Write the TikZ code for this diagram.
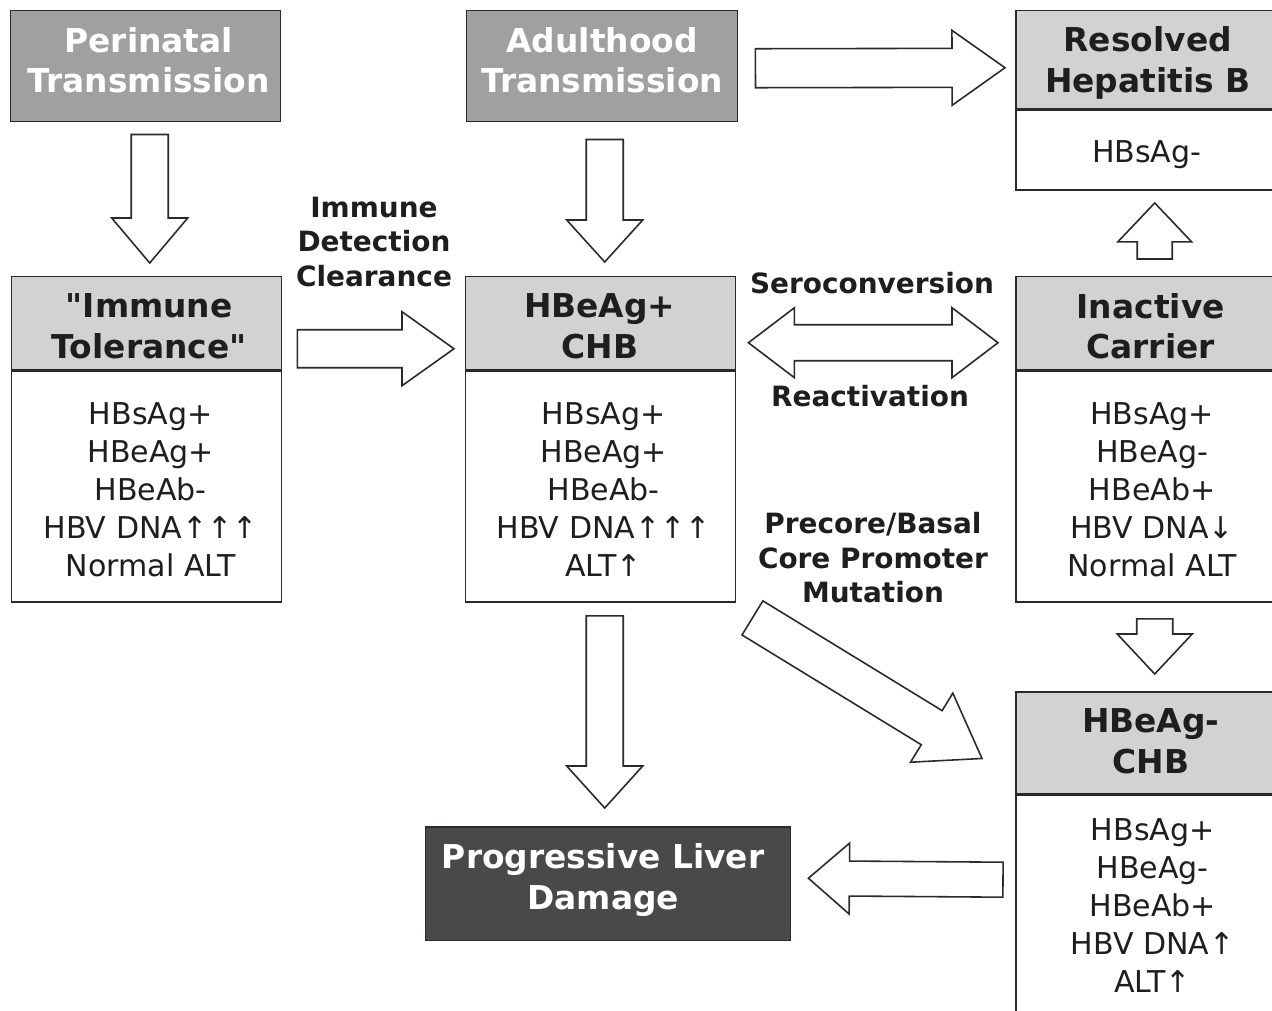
\documentclass[tikz,border=0pt]{standalone}
\usepackage{fontspec}
\setmainfont{DejaVu Sans}
\usetikzlibrary{calc,positioning}

\definecolor{darkhead}{HTML}{A0A0A3}
\definecolor{lighthead}{HTML}{D2D2D4}
\definecolor{darkbox}{HTML}{48494B}
\definecolor{edge}{HTML}{2A2A2A}
\definecolor{ink}{HTML}{1E1E1E}

% straight double quote, kept out of the TeX ligature mapping
\newcommand\dq{\XeTeXglyph\XeTeXcharglyph 34\relax}

\tikzset{
  box/.style={draw=edge, line width=0.85pt, inner sep=0pt, minimum width=5.4cm},
  source/.style={box, fill=darkhead, minimum height=2.22cm},
  phase/.style={box, fill=lighthead, minimum height=1.86cm},
  marker/.style={box, fill=white, minimum height=4.62cm},
  outcome/.style={box, fill=darkbox, minimum width=7.3cm, minimum height=2.28cm},
  whitetitle/.style={text=white, align=center, inner sep=0pt, font=\bfseries\fontsize{18.7}{23.3}\selectfont},
  title/.style={text=ink, align=center, inner sep=0pt, font=\bfseries\fontsize{18.7}{23.3}\selectfont},
  list/.style={text=ink, align=center, inner sep=0pt, font=\fontsize{17.1}{21.6}\selectfont},
  note/.style={text=ink, align=center, inner sep=0pt, font=\bfseries\fontsize{15.9}{19.6}\selectfont},
  blockarrow/.style={draw=edge, fill=white, line width=0.9pt, line join=miter}
}

% fat arrow: start, tip, shaft half width, head half width, head length
\newcommand\BlockArrow[5]{%
  \coordinate (ba) at ($(#2)!#5!(#1)$);
  \draw[blockarrow] ($(#1)!#3!90:(#2)$) -- ($(ba)!#3!90:(#2)$) -- ($(ba)!#4!90:(#2)$)
    -- (#2) -- ($(ba)!#4!-90:(#2)$) -- ($(ba)!#3!-90:(#2)$) -- ($(#1)!#3!-90:(#2)$) -- cycle;
}
% fat arrow with a head at both ends
\newcommand\TwinArrow[5]{%
  \coordinate (ba) at ($(#2)!#5!(#1)$);
  \coordinate (bb) at ($(#1)!#5!(#2)$);
  \draw[blockarrow] ($(bb)!#3!90:(#2)$) -- ($(ba)!#3!90:(#2)$) -- ($(ba)!#4!90:(#2)$)
    -- (#2) -- ($(ba)!#4!-90:(#2)$) -- ($(ba)!#3!-90:(#2)$) -- ($(bb)!#3!-90:(#2)$)
    -- ($(bb)!#4!-90:(#2)$) -- (#1) -- ($(bb)!#4!90:(#2)$) -- cycle;
}

\begin{document}
\begin{tikzpicture}[x=0.02cm, y=-0.02cm]
  \useasboundingbox (0,0) rectangle (1272,1011);

  % where the infection comes from
  \node[source, anchor=north west] (peri) at (10,10) {};
  \node[whitetitle] (periT) at ($(peri.center)+(3,-6)$) {Perinatal\\Transmission};
  \node[source, anchor=north west, minimum width=5.42cm] (adult) at (466,10) {};
  \node[whitetitle] (adultT) at ($(adult.center)+(0,-6)$) {Adulthood\\Transmission};

  % phases
  \node[phase, anchor=north west, minimum height=1.96cm] (resH) at (1015,10) {};
  \node[title] (resHT) at ($(resH.center)+(-3,3)$) {Resolved\\Hepatitis B};
  \node[marker, anchor=north, minimum height=1.6cm] (resB) at (resH.south) {};
  \node[list] (resBT) at ($(resB.center)+(-4,4)$) {HBsAg-};

  \node[phase, anchor=north west] (itH) at (11,276) {};
  \node[title] (itHT) at ($(itH.center)+(2.5,3)$) {\dq Immune\\Tolerance\dq};
  \node[marker, anchor=north] (itB) at (itH.south) {};
  \node[list] (itBT) at ($(itB.center)+(4,3)$) {HBsAg+\\HBeAg+\\HBeAb-\\HBV DNA↑↑↑\\Normal ALT};

  \node[phase, anchor=north west] (cpH) at (465,276) {};
  \node[title] (cpHT) at ($(cpH.center)+(-1,3)$) {HBeAg+\\CHB};
  \node[marker, anchor=north] (cpB) at (cpH.south) {};
  \node[list] (cpBT) at ($(cpB.center)+(3,3)$) {HBsAg+\\HBeAg+\\HBeAb-\\HBV DNA↑↑↑\\ALT↑};

  \node[phase, anchor=north west] (icH) at (1015,276) {};
  \node[title] (icHT) at ($(icH.center)+(0,3)$) {Inactive\\Carrier};
  \node[marker, anchor=north] (icB) at (icH.south) {};
  \node[list] (icBT) at ($(icB.center)+(1.5,3)$) {HBsAg+\\HBeAg-\\HBeAb+\\HBV DNA↓\\Normal ALT};

  \node[phase, anchor=north west, minimum height=2.04cm] (cnH) at (1015,691) {};
  \node[title] (cnHT) at ($(cnH.center)+(0,-1.5)$) {HBeAg-\\CHB};
  \node[marker, anchor=north] (cnB) at (cnH.south) {};
  \node[list] (cnBT) at ($(cnB.center)+(2,-5.5)$) {HBsAg+\\HBeAg-\\HBeAb+\\HBV DNA↑\\ALT↑};

  \node[outcome, anchor=north west] (pld) at (425,826) {};
  \node[whitetitle] (pldT) at ($(pld.center)+(-5,-4)$) {Progressive Liver\\Damage};

  % arrow ends
  \coordinate (periS) at ($(peri.south)+(4,12)$);
  \coordinate (itN) at ($(itH.north)+(3,-13)$);
  \coordinate (adultS) at ($(adult.south)+(2.5,17)$);
  \coordinate (cpN) at ($(cpH.north)+(4,-14)$);
  \coordinate (adultE) at ($(adult.east)+(17,2)$);
  \coordinate (resW) at ($(resH.west)+(-10,8)$);
  \coordinate (itE) at ($(itH.east)+(15,25.5)$);
  \coordinate (cpW) at ($(cpH.west)+(-11,25.5)$);
  \coordinate (cpE) at ($(cpH.east)+(12,19.5)$);
  \coordinate (icW) at ($(icH.west)+(-17,19.5)$);
  \coordinate (icN) at ($(icH.north)+(4,-17)$);
  \coordinate (resS) at ($(resB.south)+(4,12)$);
  \coordinate (icS) at ($(icB.south)+(4,16)$);
  \coordinate (cnN) at ($(cnH.north)+(4,-17)$);
  \coordinate (cpS) at ($(cpB.south)+(4,13)$);
  \coordinate (pldN) at ($(pld.north)+(-3.5,-18)$);
  \coordinate (cnW) at ($(cnB.west)+(-12,-31)$);
  \coordinate (pldE) at ($(pld.east)+(17,-5.5)$);
  \coordinate (cpSE) at ($(cpB.south east)+(16,15)$);
  \coordinate (cnSW) at ($(cnH.south west)+(-33,-36)$);

  \BlockArrow{periS}{itN}{0.37cm}{0.76cm}{0.9cm}
  \BlockArrow{adultS}{cpN}{0.37cm}{0.76cm}{0.84cm}
  \BlockArrow{adultE}{resW}{0.39cm}{0.75cm}{1.06cm}
  \BlockArrow{itE}{cpW}{0.38cm}{0.74cm}{1.04cm}
  \TwinArrow{cpE}{icW}{0.36cm}{0.7cm}{0.92cm}
  \BlockArrow{icN}{resS}{0.35cm}{0.74cm}{0.78cm}
  \BlockArrow{icS}{cnN}{0.36cm}{0.75cm}{0.8cm}
  \BlockArrow{cpS}{pldN}{0.37cm}{0.76cm}{0.84cm}
  \BlockArrow{cnW}{pldE}{0.35cm}{0.71cm}{0.82cm}
  \BlockArrow{cpSE}{cnSW}{0.4cm}{0.81cm}{1.18cm}

  % arrow labels
  \node[note] (detect) at (374,242) {Immune\\Detection\\Clearance};
  \node[note] (sero) at (872,283) {Seroconversion};
  \node[note] (react) at (870,396) {Reactivation};
  \node[note] (mut) at (873,558) {Precore/Basal\\Core Promoter\\Mutation};
\end{tikzpicture}
\end{document}
